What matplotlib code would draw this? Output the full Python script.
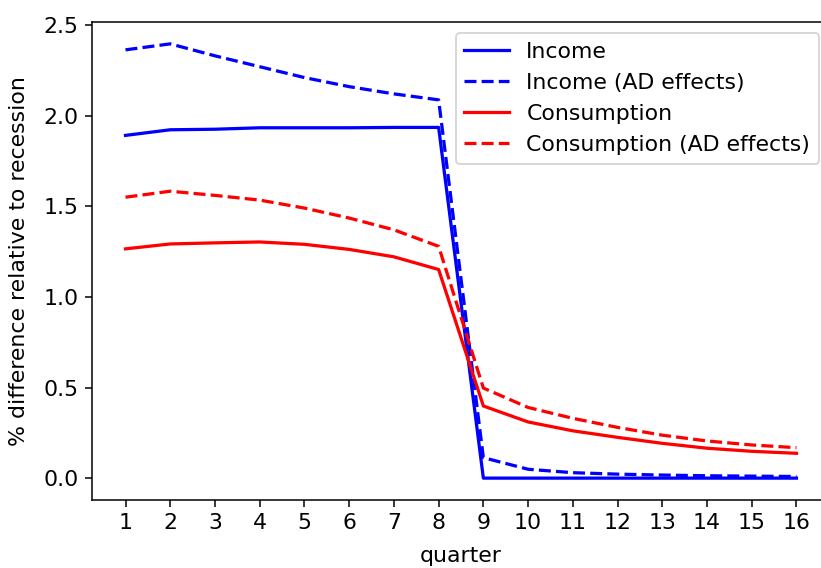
import matplotlib
matplotlib.use("Agg")
import matplotlib.pyplot as plt
import numpy as np

quarters = np.arange(1, 17)

income = [1.891, 1.922, 1.925, 1.933, 1.933, 1.933, 1.935, 1.935,
          0.0, 0.0, 0.0, 0.0, 0.0, 0.0, 0.0, 0.0]
income_ad = [2.363, 2.396, 2.33, 2.27, 2.21, 2.16, 2.12, 2.087,
             0.113, 0.049, 0.03, 0.022, 0.017, 0.013, 0.011, 0.009]
consumption = [1.265, 1.292, 1.298, 1.303, 1.29, 1.262, 1.221, 1.151,
               0.398, 0.31, 0.261, 0.225, 0.192, 0.165, 0.148, 0.137]
consumption_ad = [1.55, 1.583, 1.56, 1.534, 1.49, 1.435, 1.37, 1.279,
                  0.497, 0.39, 0.33, 0.28, 0.237, 0.205, 0.183, 0.168]

plt.rcParams["font.size"] = 11.6
plt.rcParams["lines.linewidth"] = 1.7

fig = plt.figure(figsize=(821 / 137, 568 / 137), dpi=137)
ax = fig.add_subplot(111)
# the right spine sits just past the image edge in the reference
fig.subplots_adjust(left=0.112, right=1.011, top=0.961, bottom=0.12)

ax.plot(quarters, income, "b-", label="Income")
ax.plot(quarters, income_ad, "b--", label="Income (AD effects)")
ax.plot(quarters, consumption, "r-", label="Consumption")
ax.plot(quarters, consumption_ad, "r--", label="Consumption (AD effects)")

ax.set_xticks(quarters)
ax.set_xlabel("quarter", labelpad=6.5)
ax.set_ylabel("% difference relative to recession", labelpad=7.5)
ax.legend(loc="upper right")

fig.savefig("out.png", dpi=137)
